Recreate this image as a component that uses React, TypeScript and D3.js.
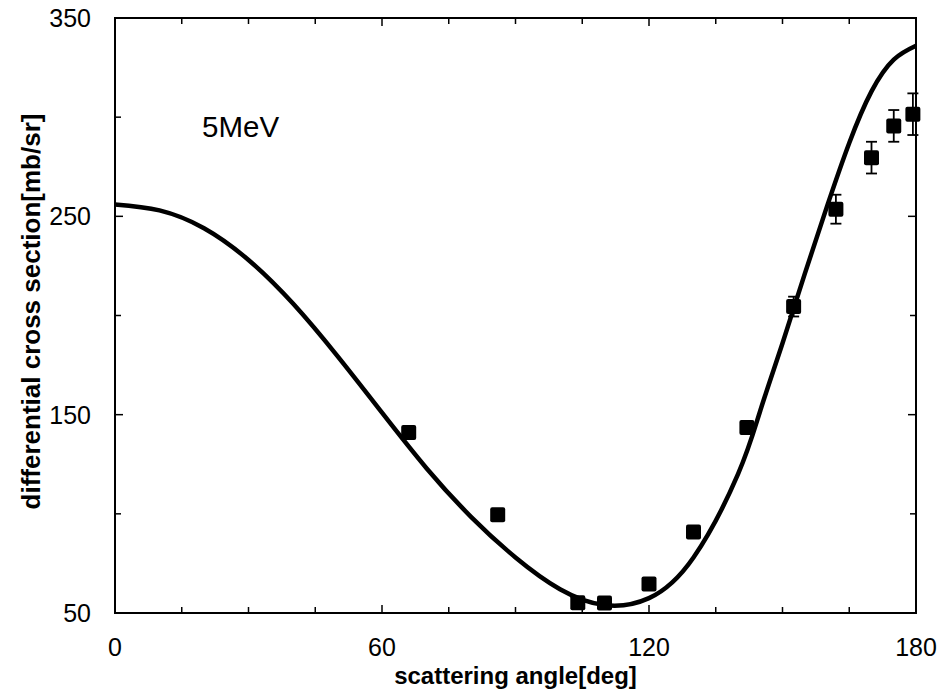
import React from "react";
import * as d3 from "d3";

const WIDTH = 945;
const HEIGHT = 692;

// Measured data points: angle (deg), cross section (mb/sr), error
const pointAngles = [66, 86, 104, 110, 120, 130, 142, 152.5, 162, 170, 175, 179.3];
const pointValues = [141, 99.5, 55.2, 55, 64.6, 90.8, 143.5, 204.5, 253.6, 279.6, 295.6, 301.5];
const pointErrors = [3, 0, 0, 0, 0, 0, 2, 5, 7.3, 8, 8, 10.5];

// Calculated curve
const curveAngles = [0, 10, 20, 30, 40, 50, 60, 70, 80, 90, 100, 110, 120, 130, 140, 145, 150, 155, 160, 165, 170, 175, 180];
const curveValues = [256, 253, 244, 228, 206, 179.5, 151, 123, 98.5, 78, 62, 54, 57.5, 78, 120, 152, 186, 221, 255, 287, 313, 329, 336];

const xTickLabels = [0, 60, 120, 180];
const xMinorTicks = [15, 30, 45, 75, 90, 105, 135, 150, 165];
const yTickLabels = [50, 150, 250, 350];
const yMinorTicks = [100, 200, 300];

const energyLabel = "5MeV";
const xTitle = "scattering angle[deg]";
const yTitle = "differential cross section[mb/sr]";

const M = { left: 115, right: 916, top: 18, bottom: 613 };

export default function App() {
  const x = d3.scaleLinear().domain([0, 180]).range([M.left, M.right]);
  const y = d3.scaleLinear().domain([50, 350]).range([M.bottom, M.top]);

  const curve = curveAngles.map((a, i) => [a, curveValues[i]] as [number, number]);
  const linePath = d3
    .line<[number, number]>()
    .x((d) => x(d[0]))
    .y((d) => y(d[1]))
    .curve(d3.curveNatural)(curve) as string;

  const font = "'Liberation Sans', Arial, sans-serif";
  const majorLen = 8;
  const minorLen = 6;
  const sq = 15;

  return (
    <svg
      width={WIDTH}
      height={HEIGHT}
      style={{ position: "absolute", left: 0, top: 0, background: "#fff" }}
      fontFamily={font}
    >
      <rect x={0} y={0} width={WIDTH} height={HEIGHT} fill="#fff" />
      {/* ticks */}
      <g stroke="#000" strokeWidth={1.5}>
        {xTickLabels.map((t) => (
          <g key={"xm" + t}>
            <line x1={x(t)} x2={x(t)} y1={y(50)} y2={y(50) - majorLen} />
            <line x1={x(t)} x2={x(t)} y1={y(350)} y2={y(350) + majorLen} />
          </g>
        ))}
        {xMinorTicks.map((t) => (
          <g key={"xn" + t}>
            <line x1={x(t)} x2={x(t)} y1={y(50)} y2={y(50) - minorLen} />
            <line x1={x(t)} x2={x(t)} y1={y(350)} y2={y(350) + minorLen} />
          </g>
        ))}
        {yTickLabels.map((t) => (
          <g key={"ym" + t}>
            <line x1={x(0)} x2={x(0) + majorLen} y1={y(t)} y2={y(t)} />
            <line x1={x(180)} x2={x(180) - majorLen} y1={y(t)} y2={y(t)} />
          </g>
        ))}
        {yMinorTicks.map((t) => (
          <g key={"yn" + t}>
            <line x1={x(0)} x2={x(0) + minorLen} y1={y(t)} y2={y(t)} />
            <line x1={x(180)} x2={x(180) - minorLen} y1={y(t)} y2={y(t)} />
          </g>
        ))}
      </g>
      {/* frame */}
      <rect
        x={x(0)}
        y={y(350)}
        width={x(180) - x(0)}
        height={y(50) - y(350)}
        fill="none"
        stroke="#000"
        strokeWidth={2}
      />
      {/* curve */}
      <path d={linePath} fill="none" stroke="#000" strokeWidth={4.5} strokeLinejoin="round" />
      {/* error bars */}
      <g stroke="#000" strokeWidth={1.8}>
        {pointAngles.map((a, i) =>
          pointErrors[i] > 0 ? (
            <g key={"e" + i}>
              <line x1={x(a)} x2={x(a)} y1={y(pointValues[i] - pointErrors[i])} y2={y(pointValues[i] + pointErrors[i])} />
              <line x1={x(a) - 5.5} x2={x(a) + 5.5} y1={y(pointValues[i] - pointErrors[i])} y2={y(pointValues[i] - pointErrors[i])} />
              <line x1={x(a) - 5.5} x2={x(a) + 5.5} y1={y(pointValues[i] + pointErrors[i])} y2={y(pointValues[i] + pointErrors[i])} />
            </g>
          ) : null
        )}
      </g>
      {/* markers */}
      {pointAngles.map((a, i) => (
        <rect
          key={"p" + i}
          x={x(a) - sq / 2}
          y={y(pointValues[i]) - sq / 2}
          width={sq}
          height={sq}
          rx={2}
          fill="#000"
        />
      ))}
      {/* tick labels */}
      {xTickLabels.map((t) => (
        <text key={"xl" + t} x={x(t)} y={655.5} fontSize={25} textAnchor="middle" fill="#000">
          {t}
        </text>
      ))}
      {yTickLabels.map((t) => (
        <text key={"yl" + t} x={91} y={y(t)} dy="0.36em" fontSize={25} textAnchor="end" fill="#000">
          {t}
        </text>
      ))}
      {/* titles */}
      <text x={(M.left + M.right) / 2} y={684} fontSize={24} fontWeight="bold" textAnchor="middle" fill="#000">
        {xTitle}
      </text>
      <text
        transform={`translate(39.5, ${(115 + 508) / 2}) rotate(-90)`}
        fontSize={26}
        fontWeight="bold"
        textAnchor="middle"
        fill="#000"
      >
        {yTitle}
      </text>
      <text x={202} y={136.7} fontSize={29.5} fill="#000">
        {energyLabel}
      </text>
    </svg>
  );
}
